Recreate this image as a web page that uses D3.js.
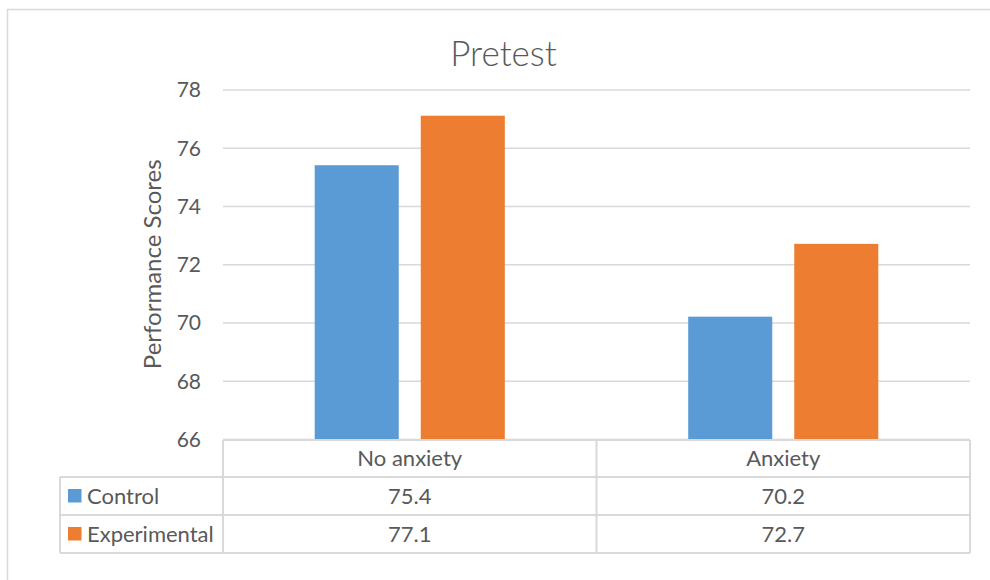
<!DOCTYPE html>
<html>
<head>
<meta charset="utf-8">
<script src="https://cdn.jsdelivr.net/npm/d3@7"></script>
<style>
  html, body { margin: 0; padding: 0; background: #fff; }
  svg { display: block; }
  text { font-family: Lato, "Open Sans", sans-serif; fill: #595959; }
</style>
</head>
<body>
<svg id="chart" width="990" height="580"></svg>
<script>
// Pretest performance scores by anxiety condition
const categories = ["No anxiety", "Anxiety"];
const seriesNames = ["Control", "Experimental"];
const control = [75.4, 70.2];
const experimental = [77.1, 72.7];
const yTicks = [66, 68, 70, 72, 74, 76, 78];
const colors = ["#5B9BD5", "#ED7D31"];

const seriesValues = [control, experimental];

const svg = d3.select("#chart");
const W = 990, H = 580;

// chart area frame
svg.append("rect")
  .attr("x", 7.5).attr("y", 9.5)
  .attr("width", W + 10).attr("height", H + 10)
  .attr("fill", "#fff").attr("stroke", "#D9D9D9").attr("stroke-width", 1.5);

const plot = { left: 223, right: 970, top: 89.5, bottom: 439 };

const y = d3.scaleLinear().domain([66, 78]).range([plot.bottom, plot.top]);
const x0 = d3.scaleBand().domain(categories).range([plot.left, plot.right]).padding(0);
const groupW = x0.bandwidth() * 0.509;
const x1 = d3.scaleBand().domain(seriesNames).range([0, groupW]).paddingInner(0.2075).paddingOuter(0);

// title
svg.append("text")
  .attr("x", 503.5).attr("y", 66)
  .attr("text-anchor", "middle")
  .style("font-size", "35px").style("font-weight", 300)
  .text("Pretest");

// gridlines + tick labels via axis
const yAxis = d3.axisLeft(y).tickValues(yTicks).tickSize(-(plot.right - plot.left)).tickPadding(22);
const gy = svg.append("g").attr("transform", `translate(${plot.left},0)`).call(yAxis);
gy.select(".domain").remove();
gy.selectAll(".tick line").attr("stroke", "#D9D9D9").attr("stroke-width", 1.5);
gy.selectAll(".tick text").style("font-size", "21px").attr("fill", "#595959")
  .attr("x", -22).attr("dy", "0.35em");

// axis title
svg.append("text")
  .attr("transform", `translate(161,${(plot.top + plot.bottom) / 2}) rotate(-90)`)
  .attr("text-anchor", "middle")
  .style("font-size", "24px")
  .text("Performance Scores");

// bars
const groups = svg.append("g").selectAll("g")
  .data(categories)
  .join("g")
  .attr("transform", d => `translate(${x0(d) + (x0.bandwidth() - groupW) / 2},0)`);

groups.selectAll("rect")
  .data((d, i) => seriesNames.map((s, j) => ({ s, v: seriesValues[j][i], j })))
  .join("rect")
  .attr("x", d => x1(d.s))
  .attr("width", x1.bandwidth())
  .attr("y", d => y(d.v))
  .attr("height", d => y(66) - y(d.v))
  .attr("fill", d => colors[d.j]);

// data table
const rowH = [plot.bottom + 1, 477, 515, 553];
const tableLeft = 60;
const lineStyle = sel => sel.attr("stroke", "#D9D9D9").attr("stroke-width", 2).attr("fill", "none");
const tbl = svg.append("g");

// horizontal rules
tbl.append("line").attr("x1", plot.left).attr("x2", plot.right).attr("y1", rowH[0]).attr("y2", rowH[0]).call(lineStyle);
[1, 2, 3].forEach(i => {
  tbl.append("line").attr("x1", tableLeft).attr("x2", plot.right).attr("y1", rowH[i]).attr("y2", rowH[i]).call(lineStyle);
});
// vertical rules
tbl.append("line").attr("x1", tableLeft).attr("x2", tableLeft).attr("y1", rowH[1]).attr("y2", rowH[3]).call(lineStyle);
[plot.left, x0(categories[1]), plot.right].forEach(xv => {
  tbl.append("line").attr("x1", xv).attr("x2", xv).attr("y1", rowH[0]).attr("y2", rowH[3]).call(lineStyle);
});

// category header
categories.forEach(c => {
  tbl.append("text")
    .attr("x", x0(c) + x0.bandwidth() / 2).attr("y", (rowH[0] + rowH[1]) / 2)
    .attr("dy", "0.35em").attr("text-anchor", "middle")
    .style("font-size", "22px").text(c);
});

// series rows
seriesNames.forEach((s, j) => {
  const cy = (rowH[j + 1] + rowH[j + 2]) / 2;
  tbl.append("rect").attr("x", 68).attr("y", cy - 7).attr("width", 13.5).attr("height", 13.5).attr("fill", colors[j]);
  tbl.append("text").attr("x", 87).attr("y", cy).attr("dy", "0.35em")
    .style("font-size", "22px").text(s);
  categories.forEach((c, i) => {
    tbl.append("text")
      .attr("x", x0(c) + x0.bandwidth() / 2).attr("y", cy)
      .attr("dy", "0.35em").attr("text-anchor", "middle")
      .style("font-size", "22px").text(d3.format(".1f")(seriesValues[j][i]));
  });
});
</script>
</body>
</html>
